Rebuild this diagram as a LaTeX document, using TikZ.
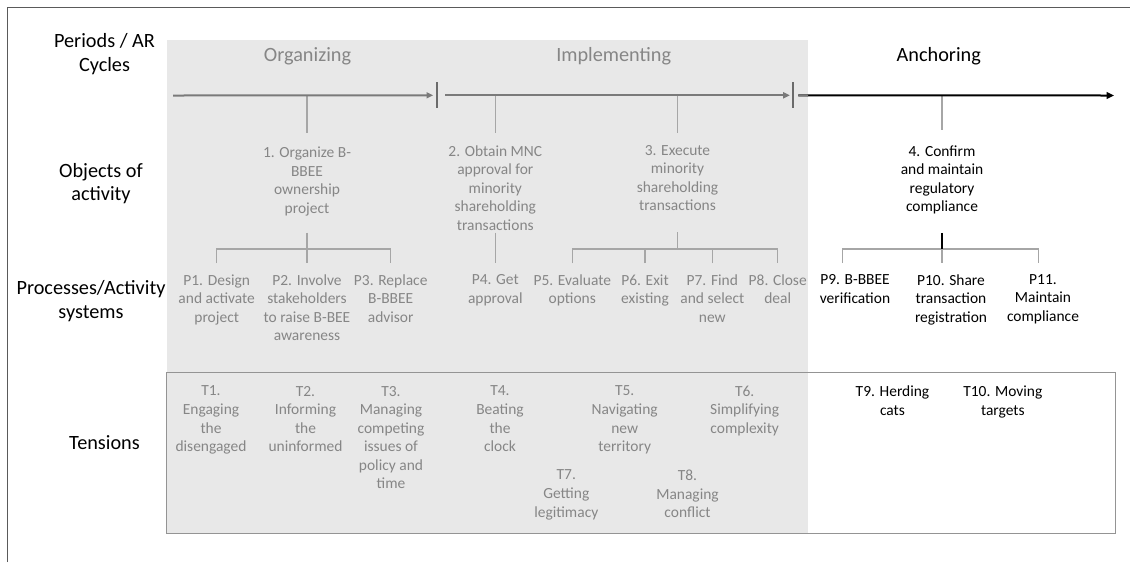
\documentclass[tikz,border=0pt]{standalone}
\usepackage{fontspec}
\setmainfont{Carlito}
\usetikzlibrary{arrows.meta}

\definecolor{bandfill}{HTML}{E8E8E8}
\definecolor{fadedtext}{HTML}{868686}
\definecolor{fadedline}{HTML}{7A7A7A}
\definecolor{tickgray}{HTML}{6B6B6B}
\definecolor{stemgray}{HTML}{A6A6A6}
\definecolor{boxline}{HTML}{949494}
\definecolor{framegray}{HTML}{5A5A5A}

\begin{document}
\begin{tikzpicture}[x=0.75pt,y=-0.75pt,
  txt/.style={inner sep=0pt, outer sep=0pt, align=center, anchor=north,
    font=\fontsize{11.6}{13.9}\selectfont,
    execute at begin node=\strut, execute at end node=\strut},
  faded/.style={txt, text=fadedtext},
  rowlab/.style={inner sep=0pt, outer sep=0pt, align=center, anchor=north,
    font=\fontsize{15.2}{17.7}\selectfont,
    execute at begin node=\strut, execute at end node=\strut},
  head/.style={inner sep=0pt, outer sep=0pt, anchor=base,
    font=\fontsize{15.2}{17.7}\selectfont},
  bar/.style={fill=tickgray, inner sep=0pt, outer sep=0pt,
    minimum width=1.6pt, minimum height=19.5pt},
  phase/.style={draw=fadedline, line width=1.5pt,
    -{Triangle[length=5pt,width=4.5pt]}},
  final/.style={draw=black, line width=1.5pt,
    -{Triangle[length=5.5pt,width=5pt]}},
  stem/.style={draw=stemgray, line width=1pt},
  stemdark/.style={draw=black, line width=1pt}
]
\useasboundingbox (0,0) rectangle (1130,562);

% shaded band for the first two periods and the tensions frame
\fill[bandfill] (167,40) rectangle (808,533);
\draw[boxline, line width=0.75pt] (166.5,372) rectangle (1115,533);
\draw[framegray, line width=0.8pt] (7.3,562) -- (7.3,7.3) -- (1130,7.3);

% period headings
\node[head, text=fadedtext] (hOrg) at (307.5,61.6) {Organizing};
\node[head, text=fadedtext] (hImp) at (613.7,61.6) {Implementing};
\node[head] (hAnc) at (938.8,61.6) {Anchoring};

% row labels
\node[rowlab] (rPer) at (104.5,33.9) {Periods / AR\\Cycles};
\node[rowlab] (rObj) at (101,163.3) {Objects of\\activity};
\node[rowlab] (rPro) at (91,280.5) {Processes/Activity\\systems};
\node[head] (rTen) at (104.5,449) {Tensions};

% objects of activity
\node[faded] (o1) at (307,147) {1. Organize B-\\BBEE\\ownership\\project};
\node[faded] (o2) at (495.3,145.3) {2. Obtain MNC\\approval for\\minority\\shareholding\\transactions};
\node[faded] (o3) at (677.5,145.3) {3. Execute\\minority\\shareholding\\transactions};
\node[txt] (o4) at (942,145.3) {4. Confirm\\and maintain\\regulatory\\compliance};

% processes / activity systems
\node[faded] (p1) at (216.7,274.5) {P1. Design\\and activate\\project};
\node[faded] (p2) at (307,274.5) {P2. Involve\\stakeholders\\to raise B-BEE\\awareness};
\node[faded] (p3) at (390.7,274.5) {P3. Replace\\B-BBEE\\advisor};
\node[faded] (p4) at (495.3,274.5) {P4. Get\\approval};
\node[faded] (p5) at (572.3,274.5) {P5. Evaluate\\options};
\node[faded] (p6) at (645,274.5) {P6. Exit\\existing};
\node[faded] (p7) at (712.3,274.5) {P7. Find\\and select\\new};
\node[faded] (p8) at (777.7,274.5) {P8. Close\\deal};
\node[txt] (p9) at (855,274.5) {P9. B-BBEE\\verification};
\node[txt] (p10) at (951,274.5) {P10. Share\\transaction\\registration};
\node[txt] (p11) at (1043,274.5) {P11.\\Maintain\\compliance};

% tensions
\node[faded] (t1) at (211,386) {T1.\\Engaging\\the\\disengaged};
\node[faded] (t2) at (305.5,386) {T2.\\Informing\\the\\uninformed};
\node[faded] (t3) at (391,386) {T3.\\Managing\\competing\\issues of\\policy and\\time};
\node[faded] (t4) at (500,386) {T4.\\Beating\\the\\clock};
\node[faded] (t5) at (624.7,386) {T5.\\Navigating\\new\\territory};
\node[faded] (t6) at (744.7,386) {T6.\\Simplifying\\complexity};
\node[faded] (t7) at (566.3,470) {T7.\\Getting\\legitimacy};
\node[faded] (t8) at (687.5,470) {T8.\\Managing\\conflict};
\node[txt] (t9) at (892.5,386) {T9. Herding\\cats};
\node[txt] (t10) at (1002.8,386) {T10. Moving\\targets};

% stems from the timeline down to the objects
\coordinate (m1) at (307,95.5);
\coordinate (m2) at (495.3,95.5);
\coordinate (m3) at (677.5,95.5);
\coordinate (m4) at (942,95.5);
\draw[stem, shorten >=10.5pt] (m1) -- (o1);
\draw[stem, shorten >=9.2pt] (m2) -- (o2);
\draw[stem, shorten >=9.2pt] (m3) -- (o3);
\draw[stem, shorten >=11.5pt] (m4) -- (o4);

% timeline with period boundaries
\coordinate (tl0) at (173,95.5);
\coordinate (tlEnd) at (1114,95.5);
\coordinate (bandEdge) at (808,95.5);
\node[bar] (bar1) at (436.7,95.3) {};
\node[bar] (bar2) at (792.7,95.3) {};
\draw[phase, shorten >=1.8pt] (tl0) -- (bar1);
\draw[phase, shorten <=5.5pt, shorten >=1.3pt] (bar1) -- (bar2);
\draw[final, shorten <=3.5pt] (bar2) -- (tlEnd);
\draw[fadedline, line width=1.5pt, shorten <=3.5pt] (bar2) -- (bandEdge);

% object 1 and its processes
\coordinate (b1) at (307,249);
\draw[stem, shorten <=10.35pt, shorten >=8.6pt] (o1) -- (p2);
\draw[stem, shorten <=8.6pt, shorten >=8.6pt] (p1) |- (b1) -| (p3);

% object 2 and its process
\draw[stem, shorten <=-2.25pt, shorten >=8.6pt] (o2) -- (p4);

% object 3 and its processes
\coordinate (b3) at (677.5,249);
\draw[stem, shorten <=11.7pt] (o3) -- (b3);
\draw[stem, shorten <=8.6pt, shorten >=8.6pt] (p5) |- (b3) -| (p8);
\draw[stem, shorten <=8.6pt] (p6) -- (p6 |- b3);
\draw[stem, shorten <=8.6pt] (p7) -- (p7 |- b3);

% object 4 and its processes
\coordinate (b4) at (942,249);
\coordinate (k9) at (842.7,263);
\coordinate (k10) at (942,263);
\coordinate (k11) at (1038.7,263);
\draw[stem] (k9) |- (b4) -| (k11);
\draw[stem] (b4) -- (k10);
\draw[stemdark, shorten <=11.7pt] (o4) -- (b4);
\end{tikzpicture}
\end{document}
